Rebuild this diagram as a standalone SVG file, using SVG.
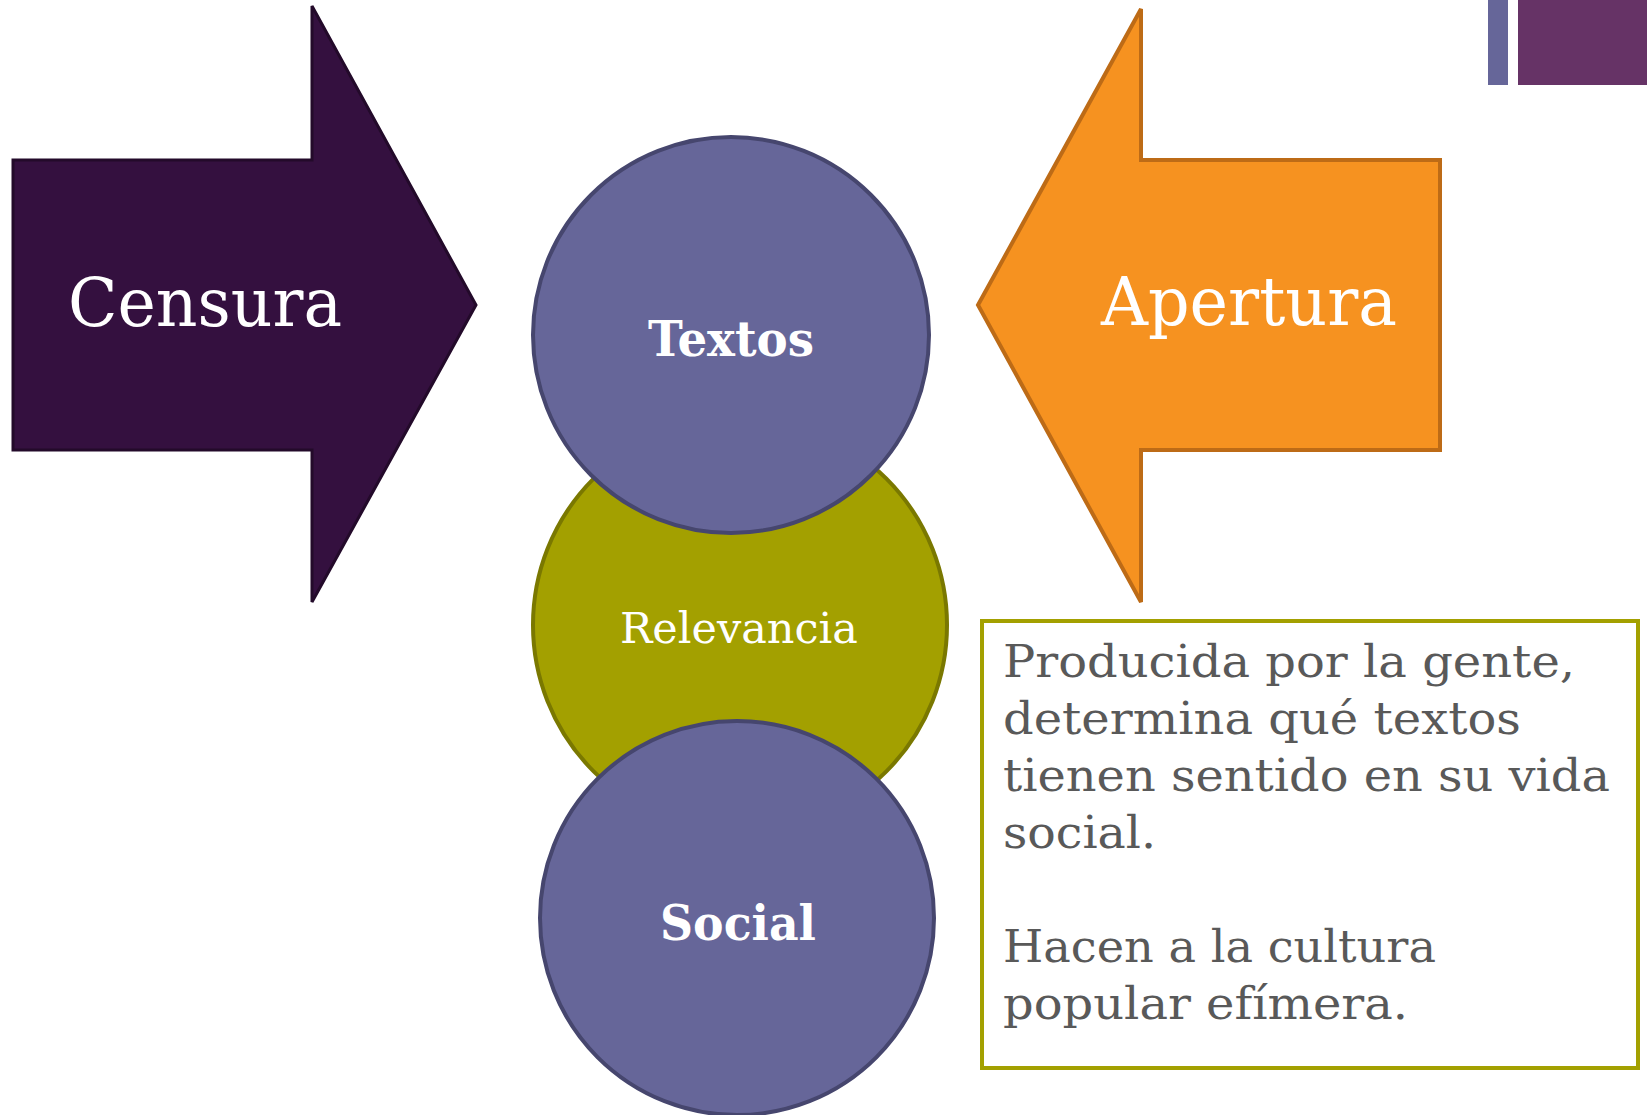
<svg xmlns="http://www.w3.org/2000/svg" width="1647" height="1115" viewBox="0 0 1647 1115">
<style>
.lbl{font-family:"DejaVu Serif","Liberation Serif",serif;fill:#ffffff}
.big{font-size:68px}
.bold{font-size:48px;font-weight:bold}
.body{font-family:"DejaVu Serif","Liberation Serif",serif;font-size:44px;fill:#595959}
.circ{fill:#666699;stroke:#46466e;stroke-width:4}
</style>
<rect width="1647" height="1115" fill="#ffffff"/>
<g id="corner">
<rect x="1488" y="0" width="20" height="85" fill="#666699"/>
<rect x="1518" y="0" width="129" height="85" fill="#663366"/>
</g>
<g id="connectors"></g>
<g id="censura">
<polygon points="13,160 312,160 312,6 476,305 312,602 312,450 13,450" fill="#34103F" stroke="#230A2A" stroke-width="3"/>
<text class="lbl big" x="68" y="326" textLength="274" lengthAdjust="spacingAndGlyphs">Censura</text>
</g>
<g id="apertura">
<polygon points="978,305 1141,9 1141,160 1440,160 1440,450 1141,450 1141,602" fill="#F69220" stroke="#BD6B16" stroke-width="4"/>
<text class="lbl big" x="1101" y="325" textLength="296" lengthAdjust="spacingAndGlyphs">Apertura</text>
</g>
<g id="relevancia">
<circle cx="740" cy="625" r="207" fill="#A3A000" stroke="#7A7800" stroke-width="4"/>
<text class="lbl" x="739" y="643" font-size="43" text-anchor="middle" textLength="238" lengthAdjust="spacingAndGlyphs">Relevancia</text>
</g>
<g id="textos">
<circle class="circ" cx="731" cy="335" r="198"/>
<text class="lbl bold" x="731" y="356" text-anchor="middle" textLength="166" lengthAdjust="spacingAndGlyphs">Textos</text>
</g>
<g id="social">
<circle class="circ" cx="737" cy="918" r="197"/>
<text class="lbl bold" x="738" y="940" text-anchor="middle" textLength="156" lengthAdjust="spacingAndGlyphs">Social</text>
</g>
<g id="descripcion">
<rect x="982" y="621" width="656" height="447" fill="#ffffff" stroke="#A3A000" stroke-width="4"/>
<text class="body" x="1003" y="677" textLength="572" lengthAdjust="spacingAndGlyphs">Producida por la gente,</text>
<text class="body" x="1003" y="734" textLength="518" lengthAdjust="spacingAndGlyphs">determina qué textos</text>
<text class="body" x="1003" y="791" textLength="607" lengthAdjust="spacingAndGlyphs">tienen sentido en su vida</text>
<text class="body" x="1003" y="848" textLength="153" lengthAdjust="spacingAndGlyphs">social.</text>
<text class="body" x="1003" y="962" textLength="433" lengthAdjust="spacingAndGlyphs">Hacen a la cultura</text>
<text class="body" x="1003" y="1019" textLength="405" lengthAdjust="spacingAndGlyphs">popular efímera.</text>
</g>
</svg>
